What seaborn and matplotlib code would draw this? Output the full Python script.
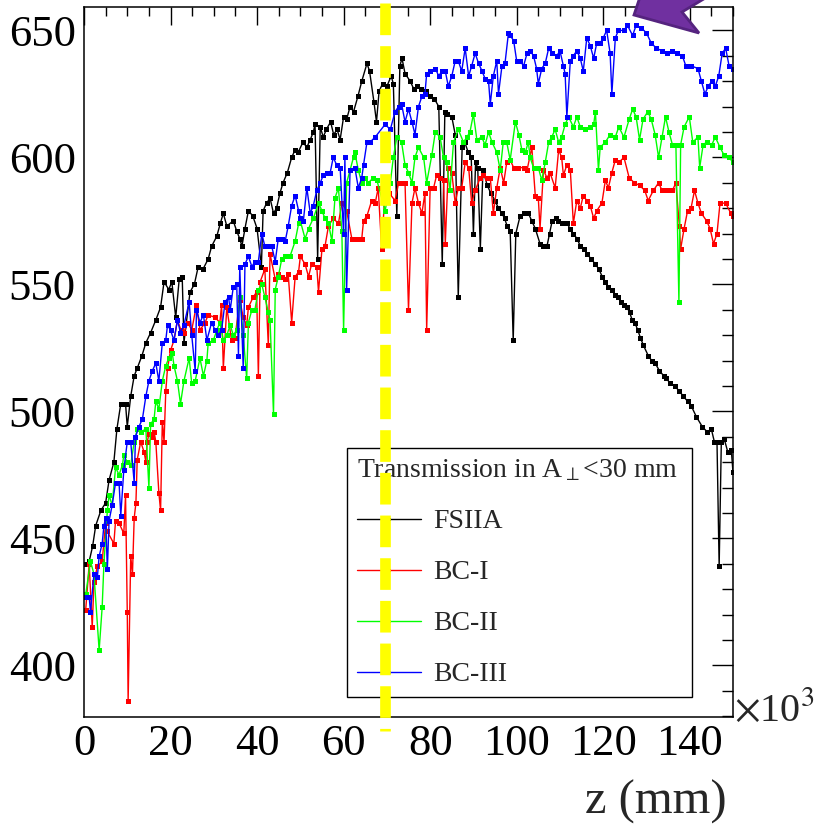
import matplotlib
matplotlib.use("Agg")
import matplotlib.pyplot as plt
from matplotlib.patches import Polygon
import seaborn as sns
import pandas as pd

# ---------------- data ----------------
fsiia_z = [0.4, 1.2, 2.0, 2.7, 3.9, 5.0, 5.8, 6.9, 7.6, 8.5,
           9.6, 10.0, 10.8, 11.6, 12.3, 13.4, 14.3, 15.4, 16.6, 17.7,
           18.5, 19.6, 20.3, 21.2, 22.0, 22.7, 23.1, 24.5, 25.5, 26.4,
           27.5, 28.7, 29.5, 30.7, 31.5, 32.2, 33.0, 34.5, 35.3, 36.0,
           36.5, 37.2, 38.0, 39.0, 40.0, 41.0, 41.4, 42.2, 43.0, 43.8,
           44.5, 45.3, 46.0, 47.0, 48.0, 48.8, 49.5, 50.6, 51.5, 52.3,
           53.0, 53.4, 54.0, 54.6, 55.3, 56.0, 57.0, 57.7, 58.5, 59.2,
           60.0, 60.7, 61.5, 62.3, 63.3, 64.2, 65.4, 66.0, 67.0, 67.6,
           68.2, 69.0, 70.0, 71.0, 71.5, 72.3, 73.0, 73.5, 74.2, 75.4,
           76.2, 77.0, 78.0, 79.0, 80.0, 81.0, 82.0, 82.8, 83.4, 84.0,
           85.0, 85.8, 86.5, 87.4, 88.0, 88.8, 89.5, 90.0, 90.5, 91.0,
           91.6, 92.2, 93.2, 94.0, 95.0, 95.8, 96.6, 97.2, 97.8, 98.5,
           99.2, 99.8, 100.8, 101.7, 102.7, 103.5, 104.3, 105.4, 106.0, 107.0,
           107.6, 108.2, 109.0, 109.6, 110.5, 111.7, 112.3, 113.0, 114.0, 114.7,
           115.5, 116.3, 117.2, 118.2, 119.0, 119.8, 120.5, 121.2, 122.0, 122.8,
           123.5, 124.0, 124.8, 125.5, 126.1, 126.7, 127.3, 128.0, 128.6, 129.3,
           130.4, 131.2, 132.0, 133.0, 134.0, 134.6, 135.5, 136.5, 137.6, 138.5,
           139.5, 140.4, 141.5, 142.9, 144.0, 145.0, 145.7, 146.3, 146.8, 147.3,
           148.0, 148.8, 149.6, 150.0]
fsiia_t = [440, 441, 447, 455, 461, 464, 473, 480, 493, 503,
           503, 494, 506, 514, 517, 522, 527, 531, 536, 541,
           551, 548, 551, 537, 552, 553, 527, 547, 550, 557,
           556, 560, 565, 569, 574, 578, 573, 575, 571, 568,
           565, 572, 579, 577, 572, 557, 579, 582, 584, 578,
           580, 586, 590, 594, 600, 603, 602, 606, 604, 607,
           610, 613, 560, 612, 608, 611, 614, 609, 611, 607,
           616, 615, 620, 618, 624, 630, 637, 634, 622, 614,
           626, 629, 628, 632, 629, 577, 636, 639, 633, 630,
           627, 628, 627, 626, 624, 623, 620, 558, 618, 617,
           616, 609, 545, 604, 606, 602, 600, 570, 598, 596,
           564, 595, 589, 586, 583, 580, 578, 576, 573, 571,
           528, 570, 577, 578, 578, 575, 572, 566, 565, 565,
           570, 575, 576, 575, 574, 574, 572, 570, 568, 565,
           564, 562, 560, 558, 556, 553, 551, 549, 548, 546,
           545, 543, 542, 541, 539, 536, 535, 532, 529, 526,
           522, 520, 519, 516, 514, 513, 511, 510, 508, 506,
           504, 502, 498, 494, 492, 493, 488, 488, 439, 488,
           489, 484, 485, 476]

bc1_z = [0.4, 1.2, 1.9, 2.3, 3.1, 4.2, 5.0, 5.3, 6.9, 7.3,
         8.1, 9.2, 9.6, 10.0, 10.2, 10.8, 11.2, 11.6, 12.0, 12.3,
         13.1, 13.9, 14.3, 14.6, 15.0, 15.8, 16.2, 16.6, 17.3, 17.7,
         18.1, 18.5, 18.9, 19.3, 20.0, 20.8, 21.6, 22.4, 23.1, 24.0,
         24.9, 26.0, 26.8, 28.0, 28.7, 30.3, 31.4, 31.8, 32.2, 33.0,
         34.1, 34.9, 36.0, 36.8, 37.6, 38.0, 39.1, 39.9, 40.3, 40.7,
         41.8, 42.6, 43.0, 44.2, 44.9, 45.7, 46.5, 47.2, 48.0, 48.8,
         49.6, 50.0, 51.1, 51.9, 52.6, 53.8, 54.2, 55.0, 55.7, 56.5,
         57.6, 58.8, 59.6, 60.7, 61.9, 63.0, 64.2, 64.6, 65.4, 66.5,
         67.3, 68.0, 68.8, 69.5, 70.5, 71.9, 72.7, 73.4, 74.2, 75.0,
         75.8, 76.5, 77.3, 78.1, 78.8, 79.2, 80.0, 80.8, 81.5, 82.3,
         83.1, 83.5, 84.2, 85.0, 85.8, 86.5, 87.3, 88.1, 88.9, 89.6,
         90.4, 91.6, 92.3, 93.1, 93.9, 94.6, 95.4, 96.2, 97.0, 97.7,
         98.5, 99.3, 100.4, 101.6, 102.4, 103.5, 104.3, 105.0, 105.4, 106.2,
         107.0, 107.7, 108.9, 109.7, 110.4, 110.8, 111.6, 112.4, 113.1, 113.9,
         114.7, 115.4, 116.2, 117.0, 117.8, 118.5, 119.7, 120.5, 121.2, 122.0,
         122.8, 123.6, 124.8, 126.0, 127.2, 128.4, 129.6, 130.4, 131.6, 132.8,
         133.6, 134.8, 136.0, 136.8, 137.6, 137.9, 138.7, 139.5, 140.3, 141.1,
         141.9, 142.7, 143.9, 144.7, 145.5, 146.3, 147.0, 148.3, 149.5, 150.0]
bc1_t = [422, 440, 415, 433, 439, 441, 456, 453, 448, 457,
         456, 452, 467, 421, 386, 443, 436, 458, 464, 481,
         488, 484, 480, 488, 491, 490, 492, 488, 468, 461,
         496, 488, 508, 517, 524, 528, 536, 532, 531, 535,
         532, 542, 532, 535, 538, 537, 535, 542, 517, 541,
         528, 529, 544, 537, 534, 541, 545, 547, 514, 551,
         556, 526, 562, 552, 554, 553, 552, 554, 535, 553,
         555, 561, 558, 553, 558, 557, 547, 564, 565, 573,
         576, 574, 582, 579, 568, 568, 568, 575, 577, 583,
         582, 588, 564, 585, 586, 583, 590, 590, 590, 540,
         582, 588, 582, 578, 586, 532, 588, 588, 593, 592,
         591, 566, 596, 594, 582, 588, 588, 598, 596, 582,
         587, 592, 593, 592, 592, 578, 588, 596, 590, 598,
         599, 596, 596, 596, 595, 604, 585, 584, 572, 595,
         592, 594, 588, 603, 600, 593, 597, 595, 574, 583,
         580, 585, 583, 581, 576, 579, 582, 591, 588, 594,
         599, 598, 600, 592, 590, 589, 587, 583, 587, 590,
         587, 587, 587, 590, 573, 564, 572, 579, 580, 587,
         582, 578, 575, 572, 566, 570, 582, 582, 578, 577]

bc2_z = [0.4, 1.5, 2.3, 3.5, 4.2, 4.6, 5.4, 5.8, 6.5, 7.3,
         8.1, 8.9, 9.2, 10.0, 10.8, 11.6, 12.3, 13.1, 14.3, 15.0,
         15.4, 16.2, 16.6, 17.3, 18.1, 18.9, 19.6, 20.4, 20.8, 21.6,
         22.3, 23.1, 24.3, 24.9, 25.7, 26.8, 27.6, 28.4, 28.7, 29.9,
         30.7, 31.4, 32.2, 33.0, 33.8, 34.5, 35.3, 36.0, 36.8, 37.6,
         38.0, 38.8, 39.5, 40.3, 41.1, 41.8, 42.6, 43.0, 43.8, 44.2,
         44.9, 45.7, 46.5, 47.6, 48.8, 49.6, 50.0, 51.1, 51.9, 53.0,
         54.2, 55.0, 55.7, 56.5, 57.3, 58.0, 58.8, 59.6, 60.0, 60.7,
         61.5, 62.3, 62.6, 63.4, 64.2, 65.0, 65.7, 66.9, 67.7, 69.6,
         70.8, 71.5, 72.3, 73.4, 74.2, 75.0, 75.8, 76.5, 77.3, 78.5,
         79.2, 80.4, 81.2, 82.3, 83.1, 83.8, 84.6, 85.4, 86.5, 87.7,
         88.5, 89.2, 90.0, 90.8, 91.9, 92.7, 93.5, 94.3, 95.4, 96.2,
         96.9, 97.7, 98.5, 99.7, 100.5, 101.2, 102.0, 102.7, 103.1, 103.9,
         105.0, 105.8, 106.6, 107.4, 108.1, 108.9, 109.7, 110.4, 111.2, 112.0,
         113.1, 113.9, 114.7, 115.8, 117.0, 117.8, 118.2, 118.9, 119.3, 120.5,
         121.6, 122.8, 123.6, 124.8, 126.0, 126.8, 127.6, 128.4, 129.2, 130.3,
         131.1, 132.0, 132.8, 133.6, 134.4, 135.2, 136.0, 136.8, 137.5, 137.9,
         138.7, 139.9, 140.7, 141.9, 142.3, 143.1, 143.9, 145.1, 145.9, 147.0,
         147.9, 149.1, 150.0]
bc2_t = [428, 441, 436, 406, 423, 440, 461, 467, 463, 478,
         475, 479, 483, 480, 479, 488, 493, 492, 493, 470,
         495, 497, 504, 501, 512, 518, 521, 523, 518, 512,
         503, 512, 521, 511, 512, 521, 514, 520, 527, 528,
         532, 535, 528, 530, 534, 530, 532, 545, 530, 513,
         535, 540, 540, 548, 550, 545, 539, 536, 499, 548,
         553, 560, 561, 561, 567, 574, 575, 568, 572, 576,
         582, 579, 576, 574, 567, 584, 588, 571, 532, 590,
         595, 600, 602, 595, 590, 592, 590, 592, 591, 579,
         590, 600, 608, 606, 597, 594, 590, 600, 604, 600,
         590, 601, 610, 608, 600, 598, 587, 606, 611, 606,
         608, 610, 617, 607, 608, 605, 610, 606, 602, 595,
         606, 606, 599, 614, 609, 603, 602, 606, 600, 596,
         596, 591, 598, 606, 608, 611, 606, 608, 613, 616,
         612, 616, 612, 611, 612, 613, 618, 595, 604, 606,
         609, 608, 612, 608, 615, 619, 616, 607, 615, 618,
         615, 609, 600, 608, 616, 610, 605, 605, 543, 605,
         612, 616, 606, 608, 596, 605, 606, 605, 608, 604,
         601, 600, 598]

bc3_z = [0.4, 1.2, 1.5, 2.3, 3.1, 3.5, 4.2, 4.6, 5.0, 5.4,
         5.8, 6.5, 7.3, 8.1, 8.5, 9.2, 10.0, 10.8, 11.6, 11.9,
         12.7, 13.5, 14.3, 15.0, 15.8, 16.6, 17.3, 18.1, 18.9, 19.3,
         20.0, 20.8, 21.6, 22.3, 23.1, 24.3, 24.9, 25.7, 26.0, 26.8,
         27.6, 28.4, 29.5, 30.3, 31.0, 31.8, 32.6, 33.4, 33.8, 34.5,
         35.3, 35.7, 36.0, 36.8, 37.2, 38.0, 38.8, 39.5, 40.3, 41.1,
         41.8, 42.6, 43.4, 44.2, 44.9, 45.7, 46.5, 47.2, 48.0, 48.8,
         49.6, 50.0, 50.7, 51.5, 52.3, 53.0, 53.8, 54.6, 55.3, 56.1,
         56.9, 57.6, 58.4, 59.2, 60.0, 60.3, 60.7, 61.5, 62.6, 63.4,
         64.2, 64.6, 65.4, 66.1, 67.3, 69.6, 70.8, 71.9, 72.7, 73.4,
         74.2, 75.0, 75.8, 76.5, 77.3, 78.1, 78.8, 79.2, 80.0, 81.2,
         82.0, 82.7, 83.5, 84.2, 85.0, 85.8, 86.5, 87.3, 88.1, 88.9,
         89.6, 90.4, 91.2, 92.0, 92.7, 93.5, 93.9, 94.6, 95.4, 95.8,
         96.6, 97.3, 98.1, 98.5, 99.3, 100.0, 100.8, 101.6, 102.4, 103.1,
         103.9, 104.6, 105.0, 105.8, 106.6, 107.4, 108.1, 109.3, 110.0, 110.8,
         111.2, 111.6, 112.4, 113.1, 113.9, 114.7, 115.4, 116.2, 117.0, 117.8,
         118.5, 119.3, 120.0, 120.8, 121.6, 122.0, 122.8, 123.5, 124.8, 125.6,
         126.8, 127.6, 128.8, 130.0, 131.1, 132.3, 133.5, 134.7, 135.9, 137.1,
         138.3, 139.1, 140.4, 141.9, 142.7, 143.5, 144.3, 145.1, 145.9, 146.7,
         147.5, 148.3, 149.1, 150.0]
bc3_t = [427, 427, 421, 436, 435, 443, 448, 455, 458, 438,
         457, 463, 472, 472, 459, 477, 488, 488, 472, 490,
         494, 497, 506, 512, 516, 519, 512, 527, 528, 534,
         532, 528, 536, 531, 534, 543, 530, 516, 540, 535,
         538, 528, 535, 532, 530, 532, 543, 545, 540, 549,
         550, 522, 557, 517, 558, 561, 557, 559, 559, 570,
         565, 565, 565, 559, 568, 568, 567, 573, 581, 585,
         579, 576, 575, 588, 578, 581, 587, 590, 593, 594,
         594, 600, 597, 596, 570, 600, 548, 595, 596, 588,
         592, 597, 606, 606, 608, 613, 611, 618, 620, 621,
         614, 619, 614, 609, 620, 624, 625, 633, 634, 635,
         632, 634, 634, 628, 632, 638, 638, 634, 643, 632,
         636, 641, 637, 634, 631, 630, 621, 632, 638, 625,
         636, 637, 649, 648, 646, 638, 638, 636, 641, 642,
         640, 635, 629, 635, 637, 643, 641, 640, 642, 636,
         633, 616, 638, 640, 642, 639, 634, 647, 644, 639,
         645, 645, 647, 650, 641, 625, 647, 650, 650, 652,
         648, 652, 651, 649, 645, 643, 642, 641, 642, 641,
         640, 636, 636, 635, 630, 625, 628, 630, 628, 632,
         641, 643, 636, 635]

series_names = ["FSIIA", "BC-I", "BC-II", "BC-III"]
series_colors = ["#000000", "#ff0000", "#00ff00", "#0000ff"]
legend_title = r"Transmission in A$_{\perp}$<30 mm"
x_ticks = [0, 20, 40, 60, 80, 100, 120, 140]
y_ticks = [400, 450, 500, 550, 600, 650]
marker_z = 69.5          # yellow dashed marker line (x 10^3 mm)

# ---------------- style ----------------
sns.set_style("white")
plt.rcParams["font.family"] = ["Liberation Serif", "DejaVu Serif"]
plt.rcParams["mathtext.fontset"] = "stix"

W, H = 816, 836
fig = plt.figure(figsize=(W / 100, H / 100), dpi=100)
L, R, T, B = 84, 733, 7.3, 717
ax = fig.add_axes([L / W, 1 - B / H, (R - L) / W, (B - T) / H])

frames = []
for name, z, t in [("FSIIA", fsiia_z, fsiia_t), ("BC-I", bc1_z, bc1_t),
                   ("BC-II", bc2_z, bc2_t), ("BC-III", bc3_z, bc3_t)]:
    frames.append(pd.DataFrame({"z": z, "T": t, "det": name}))
df = pd.concat(frames, ignore_index=True)

handles = []
for name, col in zip(series_names, series_colors):
    sub = df[df["det"] == name]
    sns.lineplot(data=sub, x="z", y="T", ax=ax, color=col, estimator=None,
                 sort=False, linewidth=1.0, marker="s", markersize=3.6,
                 markeredgewidth=0, legend=False)
    line = ax.lines[-1]
    line.set_label(name)
    handles.append(line)

ax.set_xlim(0, 150)
ax.set_ylim(379.7, 659.1)
ax.set_xticks(x_ticks)
ax.set_xticks(list(range(0, 151, 5)), minor=True)
ax.set_yticks(y_ticks)
ax.set_yticks(list(range(380, 660, 10)), minor=True)
ax.tick_params(axis="both", which="both", direction="in", top=True, right=True,
               width=1.0, labelsize=32, colors="black")
ax.tick_params(axis="x", which="major", length=13, pad=5)
ax.tick_params(axis="x", which="minor", length=6.5)
ax.tick_params(axis="y", which="major", length=15, pad=6)
ax.tick_params(axis="y", which="minor", length=8)
for sp in ax.spines.values():
    sp.set_linewidth(1.1)
    sp.set_color("black")
ax.set_xlabel("")
ax.set_ylabel("")

# axis title and exponent
fig.text(727 / W, 1 - 802 / H, "z (mm)", ha="right", va="center", fontsize=35)
fig.text(734 / W, 1 - 711 / H, r"$\times$10$^{3}$", ha="left", va="center", fontsize=29)

# legend
leg = ax.legend(handles, series_names, title=legend_title, loc="upper left",
                bbox_to_anchor=((347 - L) / (R - L), (B - 697) / (B - T),
                                (692 - 347) / (R - L), (697 - 448) / (B - T)),
                mode="expand", borderaxespad=0, fontsize=20, title_fontsize=20,
                alignment="left", fancybox=False, framealpha=1, edgecolor="black",
                borderpad=0.35, labelspacing=0.92, handlelength=2.3,
                handletextpad=0.45, numpoints=1, markerscale=0.6)
leg.get_frame().set_linewidth(1.0)
leg.set_zorder(5)

# yellow dashed marker line (drawn over the legend)
ax.plot([marker_z, marker_z], [(B - 3) / (B - T), (B - 731) / (B - T)],
        transform=ax.get_xaxis_transform(), clip_on=False, color="#ffff00",
        linewidth=7.7, dashes=(2.96, 1.03), solid_capstyle="butt", zorder=6)

# purple block arrow at the top right (cut by the picture edge)
arrow_px = [(641, -6), (634, 15), (699, 33), (682, 12), (712, -6)]
poly = Polygon([(x / W, 1 - y / H) for x, y in arrow_px], closed=True,
               transform=fig.transFigure, facecolor="#7030a0",
               edgecolor="#55237f", linewidth=2, clip_on=False, zorder=10)
fig.add_artist(poly)

fig.savefig("out.png", dpi=100)
